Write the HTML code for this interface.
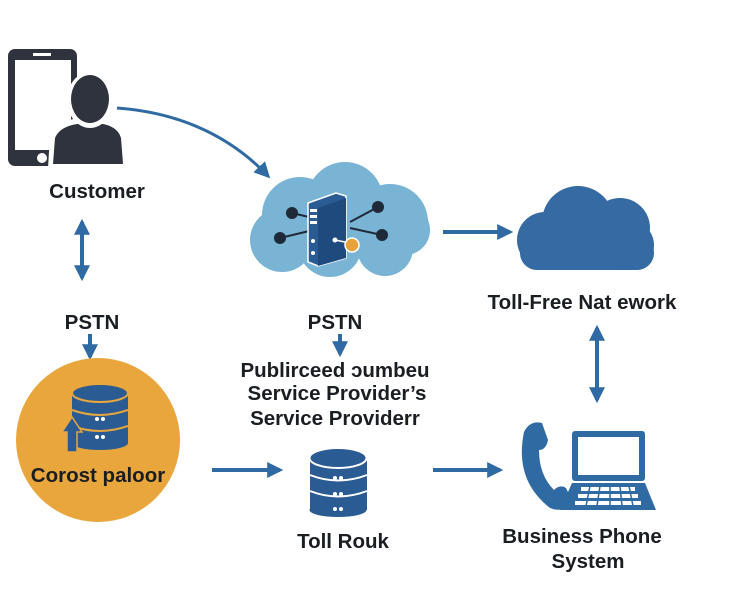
<!DOCTYPE html>
<html><head><meta charset="utf-8"><style>
html,body{margin:0;padding:0;background:#fff;}
svg{display:block;}
text{font-family:"Liberation Sans",sans-serif;font-weight:bold;fill:#1a1d22;text-anchor:middle;}
</style></head><body>
<svg width="740" height="600" viewBox="0 0 740 600" xmlns="http://www.w3.org/2000/svg">
<defs>
<marker id="ah2" viewBox="0 0 10 10" markerWidth="16" markerHeight="16" refX="8" refY="5" orient="auto-start-reverse" markerUnits="userSpaceOnUse"><path d="M0,0 L10,5 L0,10 Z" fill="#2f6aa3"/></marker>
</defs>
<!-- phone -->
<rect x="8" y="49" width="69" height="117" rx="7" fill="#2e333d"/>
<rect x="15" y="60" width="56" height="90" fill="#fff"/>
<rect x="33" y="53" width="18" height="3" fill="#fff"/>
<circle cx="42" cy="158" r="5" fill="#fff"/>
<!-- person -->
<path d="M48,168 L50,135 Q54,122 74,119 L106,119 Q122,122 125,135 L127,168 Z" fill="#fff"/>
<path d="M53,164 L55,138 Q59,127 77,124 L103,124 Q118,127 121,138 L123,164 Z" fill="#2e333d"/>
<ellipse cx="90" cy="100" rx="23" ry="28" fill="#fff"/>
<ellipse cx="90" cy="99" rx="19" ry="24" fill="#2e333d"/>
<text x="97" y="198" font-size="20.5">Customer</text>
<path d="M117,108 Q210,115 268,176" fill="none" stroke="#2f6aa3" stroke-width="3" marker-end="url(#ah2)"/>
<line x1="82" y1="222" x2="82" y2="278" stroke="#2f6aa3" stroke-width="4" marker-start="url(#ah2)" marker-end="url(#ah2)"/>
<text x="92" y="329" font-size="20.5">PSTN</text>
<line x1="90" y1="334" x2="90" y2="357" stroke="#2f6aa3" stroke-width="4" marker-end="url(#ah2)"/>
<!-- orange circle -->
<circle cx="98" cy="440" r="82" fill="#e8a63c"/>
<g fill="#2a5b93">
<rect x="72" y="393" width="56" height="50"/>
<ellipse cx="100" cy="443" rx="28" ry="7"/>
<ellipse cx="100" cy="393" rx="28" ry="9" />
</g>
<ellipse cx="100" cy="393" rx="28" ry="9" fill="none" stroke="#e8a63c" stroke-width="2"/>
<path d="M72,410 Q100,420 128,410 M72,426 Q100,436 128,426" fill="none" stroke="#e8a63c" stroke-width="2"/>
<g fill="#fff"><circle cx="97" cy="419" r="2"/><circle cx="103" cy="419" r="2"/><circle cx="97" cy="437" r="2"/><circle cx="103" cy="437" r="2"/></g>
<path d="M62,432 L72,417 L82,432 L77,432 L77,452 L67,452 L67,432 Z" fill="#2a5b93" stroke="#e8a63c" stroke-width="1.5"/>
<text x="98" y="482" font-size="20.5">Corost paloor</text>
<line x1="212" y1="470" x2="280" y2="470" stroke="#2f6aa3" stroke-width="4" marker-end="url(#ah2)"/>
<line x1="433" y1="470" x2="500" y2="470" stroke="#2f6aa3" stroke-width="4" marker-end="url(#ah2)"/>
<!-- toll rouk db -->
<g fill="#2a5b93">
<rect x="310" y="458" width="57" height="52" />
<ellipse cx="338" cy="510" rx="28.5" ry="7"/>
<ellipse cx="338" cy="458" rx="28.5" ry="10"/>
</g>
<ellipse cx="338" cy="458" rx="28.5" ry="10" fill="none" stroke="#fff" stroke-width="2"/>
<path d="M310,475 Q338,486 367,475 M310,491 Q338,502 367,491" fill="none" stroke="#fff" stroke-width="2"/>
<g fill="#fff"><circle cx="335" cy="478" r="2"/><circle cx="341" cy="478" r="2"/><circle cx="335" cy="494" r="2"/><circle cx="341" cy="494" r="2"/><circle cx="335" cy="509" r="2"/><circle cx="341" cy="509" r="2"/></g>
<text x="343" y="548" font-size="20.5">Toll Rouk</text>
<!-- light cloud -->
<g fill="#7ab4d5">
<circle cx="300" cy="215" r="38"/><circle cx="345" cy="200" r="38"/><circle cx="390" cy="222" r="38"/>
<circle cx="282" cy="240" r="32"/><circle cx="330" cy="245" r="32"/><circle cx="385" cy="248" r="28"/>
<circle cx="405" cy="230" r="25"/>
</g>
<g stroke="#1e2a38" stroke-width="2"><line x1="292" y1="213" x2="330" y2="222"/><line x1="280" y1="238" x2="330" y2="226"/><line x1="350" y1="222" x2="378" y2="207"/><line x1="350" y1="228" x2="382" y2="235"/></g>
<g fill="#1e2a38"><circle cx="292" cy="213" r="6"/><circle cx="280" cy="238" r="6"/><circle cx="378" cy="207" r="6"/><circle cx="382" cy="235" r="6"/></g>
<path d="M308,203 L336,193 L346,196 L346,258 L318,266 L308,262 Z" fill="#2a5b93" stroke="#fff" stroke-width="1.5"/>
<path d="M318,208 L346,198 L346,258 L318,266 Z" fill="#1f4a7e"/>
<g fill="#fff"><rect x="310" y="209" width="7" height="3"/><rect x="310" y="215" width="7" height="3"/><rect x="310" y="221" width="7" height="3"/><circle cx="313" cy="241" r="2"/><circle cx="313" cy="253" r="2"/></g>
<line x1="335" y1="240" x2="350" y2="243" stroke="#fff" stroke-width="1.5"/>
<circle cx="335" cy="240" r="2.5" fill="#fff"/>
<circle cx="352" cy="245" r="7" fill="#e8a23a" stroke="#fff" stroke-width="1.5"/>
<text x="335" y="329" font-size="20.5">PSTN</text>
<line x1="340" y1="334" x2="340" y2="354" stroke="#2f6aa3" stroke-width="4" marker-end="url(#ah2)"/>
<text x="335" y="377" font-size="20.5">Publirceed ɔumbeu</text>
<text x="337" y="400" font-size="20.5">Service Provider’s</text>
<text x="335" y="425" font-size="20.5">Service Providerr</text>
<line x1="443" y1="232" x2="510" y2="232" stroke="#2f6aa3" stroke-width="4" marker-end="url(#ah2)"/>
<!-- dark cloud -->
<g fill="#356aa2">
<circle cx="578" cy="222" r="36"/><circle cx="620" cy="228" r="30"/><circle cx="545" cy="240" r="28"/>
<rect x="520" y="235" width="134" height="35" rx="17"/>
<circle cx="630" cy="245" r="24"/>
</g>
<text x="582" y="309" font-size="20.5">Toll-Free Nat ework</text>
<line x1="597" y1="328" x2="597" y2="400" stroke="#2f6aa3" stroke-width="4" marker-start="url(#ah2)" marker-end="url(#ah2)"/>
<!-- handset -->
<path d="M524,432 Q530,420 542,423 L548,440 Q546,450 539,450 Q539,475 554,490 Q560,484 566,488 L572,500 Q565,514 550,508 Q514,480 524,432 Z" fill="#2f6aa3"/>
<!-- laptop -->
<rect x="572" y="431" width="73" height="50" rx="3" fill="#2f6aa3"/>
<rect x="578" y="437" width="61" height="38" fill="#fff"/>
<path d="M572,483 L645,483 L656,510 L560,510 Z" fill="#2f6aa3"/>
<g fill="#fff">
<rect x="581" y="487" width="54" height="4"/><rect x="578" y="494" width="60" height="4"/><rect x="575" y="501" width="66" height="4"/>
</g>
<g stroke="#2f6aa3" stroke-width="1.5"><line x1="590" y1="486" x2="586" y2="506"/><line x1="600" y1="486" x2="597" y2="506"/><line x1="610" y1="486" x2="610" y2="506"/><line x1="620" y1="486" x2="622" y2="506"/><line x1="629" y1="486" x2="633" y2="506"/></g>
<text x="582" y="543" font-size="20.5">Business Phone</text>
<text x="588" y="568" font-size="20.5">System</text>
</svg>
</body></html>
